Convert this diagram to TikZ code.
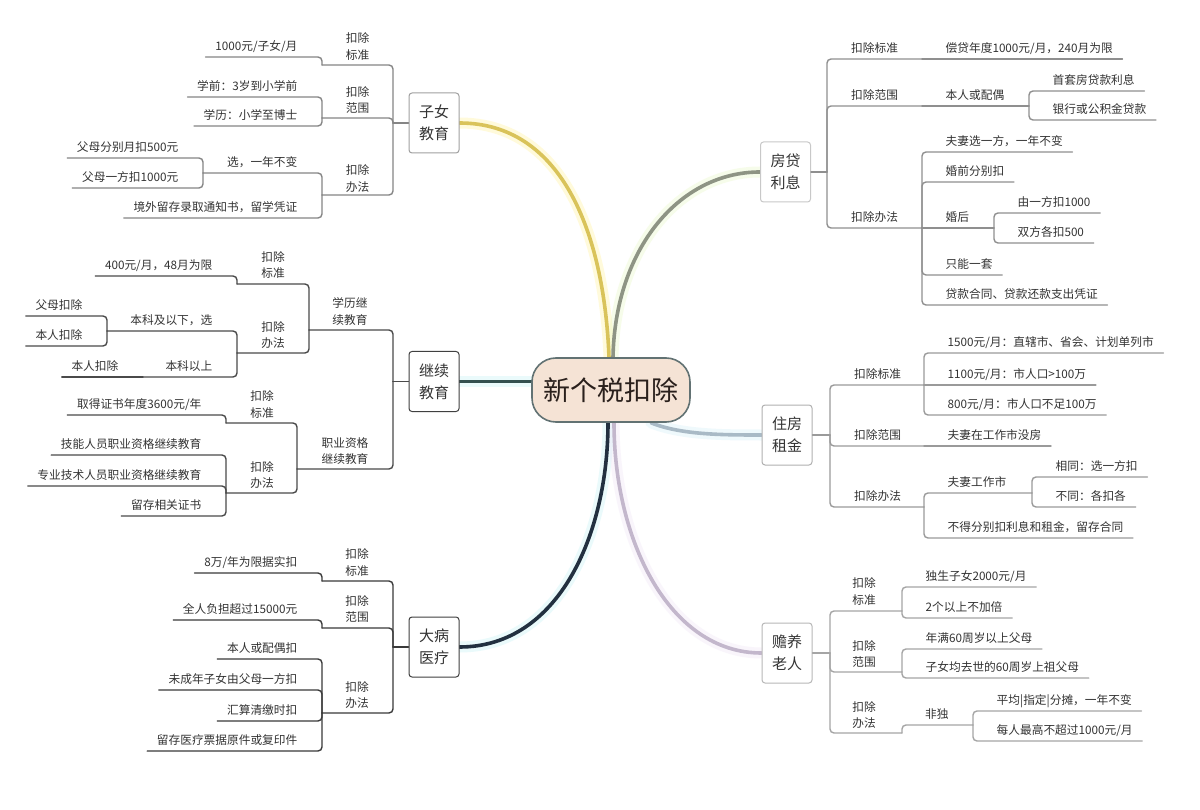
\documentclass[tikz,border=0pt]{standalone}
\usepackage{fontspec}
\setmainfont{Noto Sans CJK SC}
\usetikzlibrary{calc}
\pgfdeclarelayer{bg}
\pgfsetlayers{bg,main}
\definecolor{txt}{HTML}{333333}
\definecolor{lnZ}{HTML}{858585}
\definecolor{lnJ}{HTML}{4a4a4a}
\definecolor{lnD}{HTML}{3a3a3a}
\definecolor{lnF}{HTML}{8f8f8f}
\definecolor{lnS}{HTML}{9a9a9a}
\definecolor{lnY}{HTML}{a5a5a5}
\definecolor{bZ}{HTML}{a0a0a0}
\definecolor{bJ}{HTML}{404040}
\definecolor{bD}{HTML}{404040}
\definecolor{bF}{HTML}{c8c8c8}
\definecolor{bS}{HTML}{b0b0b0}
\definecolor{bY}{HTML}{b8b8b8}
\definecolor{cZ}{HTML}{d9c35a}
\definecolor{gZ}{HTML}{fff29a}
\definecolor{cF}{HTML}{8e9484}
\definecolor{gF}{HTML}{e8f8c4}
\definecolor{cJ}{HTML}{34504f}
\definecolor{gJ}{HTML}{c4f2f6}
\definecolor{cS}{HTML}{a9bac6}
\definecolor{gS}{HTML}{d2eef8}
\definecolor{cD}{HTML}{223040}
\definecolor{gD}{HTML}{c4f2f6}
\definecolor{cY}{HTML}{c3b7cc}
\definecolor{gY}{HTML}{efe4f6}
\definecolor{rootfill}{HTML}{f5e3d5}
\definecolor{rootdraw}{HTML}{627273}
\definecolor{roottxt}{HTML}{2a201c}
\tikzset{
  lt/.style={inner sep=0pt, font=\fontsize{11.7}{14}\selectfont, text=txt},
  lt2/.style={inner sep=0pt, align=center, font=\fontsize{11.7}{16.5}\selectfont, text=txt},
  mainbox/.style={draw=#1, rounded corners=3pt, fill=white, line width=1pt,
    minimum width=50pt, minimum height=60pt, align=center, inner sep=0pt,
    font=\fontsize{15}{22}\selectfont, text=txt},
  rootnode/.style={draw=rootdraw, fill=rootfill, line width=1.6pt, rounded corners=24pt,
    minimum width=158pt, minimum height=64pt, inner sep=0pt,
    font=\fontsize{27}{30}\selectfont, text=roottxt},
  conn/.style={line width=1.4pt, line cap=round, rounded corners=4pt},
  curve/.style={line width=3.6pt, line cap=round, draw=#1},
  glow/.style={line width=11pt, line cap=round, draw=#1, opacity=0.35},
}
% left leaf: name, attach x, line y, text
\newcommand{\leafL}[4]{%
  \node[lt, anchor=base east] (#1) at ({#2-24.5},{#3-6.5}) {#4};
  \coordinate (#1-e) at ($(#1.base west)+(-9.5,6.5)$);%
}
% right leaf: name, attach x, line y, text
\newcommand{\leafR}[4]{%
  \node[lt, anchor=base west] (#1) at ({#2+23.5},{#3-6.5}) {#4};
  \coordinate (#1-e) at ($(#1.base east)+(9.5,6.5)$);%
}
\begin{document}
\begin{tikzpicture}[x=1pt,y=-1pt]
\useasboundingbox (0,0) rectangle (1200,810);

\node[rootnode] (root) at (611,390) {新个税扣除};
\node[mainbox=bZ] (Z) at (434,123) {子女\\教育};
\node[mainbox=bJ] (J) at (434,381.5) {继续\\教育};
\node[mainbox=bD] (D) at (434,647) {大病\\医疗};
\node[mainbox=bF] (F) at (785.5,172) {房贷\\利息};
\node[mainbox=bS] (S) at (787,435) {住房\\租金};
\node[mainbox=bY] (Y) at (787,653) {赡养\\老人};

\begin{pgfonlayer}{bg}
\fill[white] (0,0) rectangle (1200,810);
% glows
\draw[glow=gZ] ([xshift=-2pt]root.north) .. controls +(-5,-127) and +(101,0) .. (Z.east);
\draw[glow=gF] ([xshift=2pt]root.north) .. controls +(2,-108) and +(-81,0) .. (F.west);
\draw[glow=gJ] (J.east) -- (J.east -| root.west);
\draw[glow=gS] ([xshift=40pt]root.south) .. controls +(30,12) and +(-40,0) .. (S.west);
\draw[glow=gD] ([xshift=-3pt]root.south) .. controls +(0,110) and +(100,0) .. (D.east);
\draw[glow=gY] ([xshift=3pt]root.south) .. controls +(0,118) and +(-92,0) .. (Y.west);
% curves
\draw[curve=cZ] ([xshift=-2pt]root.north) .. controls +(-5,-127) and +(101,0) .. (Z.east);
\draw[curve=cF] ([xshift=2pt]root.north) .. controls +(2,-108) and +(-81,0) .. (F.west);
\draw[curve=cJ] (J.east) -- (J.east -| root.west);
\draw[curve=cS] ([xshift=40pt]root.south) .. controls +(30,12) and +(-40,0) .. (S.west);
\draw[curve=cD] ([xshift=-3pt]root.south) .. controls +(0,110) and +(100,0) .. (D.east);
\draw[curve=cY] ([xshift=3pt]root.south) .. controls +(0,118) and +(-92,0) .. (Y.west);
\end{pgfonlayer}

% ================= 子女教育 =================
\begin{scope}[ln/.style={conn,draw=lnZ}]
\coordinate (Z-e) at (393,123);
\draw[ln] (Z.west) -- (Z-e);
\coordinate (Z1-e) at (322,65);  \node[lt2] (Z1) at (357.5,46.5) {扣除\\标准};
\coordinate (Z2-e) at (322,118); \node[lt2] (Z2) at (357.5,100) {扣除\\范围};
\coordinate (Z3-e) at (322,195); \node[lt2] (Z3) at (357.5,178.5) {扣除\\办法};
\draw[ln] (Z-e) |- (Z1-e);
\draw[ln] (Z-e) |- (Z2-e);
\draw[ln] (Z-e) |- (Z3-e);
\leafL{Z11}{322}{57}{1000元/子女/月}
\draw[ln] (Z1-e) |- (Z11-e);
\leafL{Z21}{322}{97}{学前：3岁到小学前}
\leafL{Z22}{322}{126}{学历：小学至博士}
\draw[ln] (Z2-e) |- (Z21-e);
\draw[ln] (Z2-e) |- (Z22-e);
\coordinate (Z31-e) at (203,173);
\node[lt, anchor=base east] (Z31) at (297.5,166.5) {选，一年不变};
\draw[ln] (Z3-e) |- (Z31-e);
\leafL{Z311}{203}{158}{父母分别月扣500元}
\leafL{Z312}{203}{188}{父母一方扣1000元}
\draw[ln] (Z31-e) |- (Z311-e);
\draw[ln] (Z31-e) |- (Z312-e);
\leafL{Z32}{322}{218}{境外留存录取通知书，留学凭证}
\draw[ln] (Z3-e) |- (Z32-e);
\end{scope}

% ================= 继续教育 =================
\begin{scope}[ln/.style={conn,draw=lnJ}]
\coordinate (J-e) at (393,381.5);
\draw[ln] (J.west) -- (J-e);
\coordinate (J1-e) at (309,330); \node[lt2] (J1) at (350,311.5) {学历继\\续教育};
\coordinate (J2-e) at (297,469); \node[lt2] (J2) at (345,451) {职业资格\\继续教育};
\draw[ln] (J-e) |- (J1-e);
\draw[ln] (J-e) |- (J2-e);
\coordinate (J11-e) at (237,284); \node[lt2] (J11) at (273,265) {扣除\\标准};
\coordinate (J12-e) at (237,353); \node[lt2] (J12) at (273,335) {扣除\\办法};
\draw[ln] (J1-e) |- (J11-e);
\draw[ln] (J1-e) |- (J12-e);
\leafL{J111}{237}{276}{400元/月，48月为限}
\draw[ln] (J11-e) |- (J111-e);
\coordinate (J121-e) at (107,331);
\node[lt, anchor=base east] (J121) at (212.5,324.5) {本科及以下，选};
\draw[ln] (J12-e) |- (J121-e);
\leafL{J1211}{107}{316}{父母扣除}
\leafL{J1212}{107}{346}{本人扣除}
\draw[ln] (J121-e) |- (J1211-e);
\draw[ln] (J121-e) |- (J1212-e);
\coordinate (J122-e) at (143,377);
\node[lt, anchor=base east] (J122) at (212.5,370.5) {本科以上};
\draw[ln] (J12-e) |- (J122-e);
\leafL{J1221}{143}{377}{本人扣除}
\draw[ln] (J122-e) -- (J1221-e);
\coordinate (J21-e) at (226,423); \node[lt2] (J21) at (262,404.5) {扣除\\标准};
\coordinate (J22-e) at (226,493); \node[lt2] (J22) at (262,475) {扣除\\办法};
\draw[ln] (J2-e) |- (J21-e);
\draw[ln] (J2-e) |- (J22-e);
\leafL{J211}{226}{415}{取得证书年度3600元/年}
\draw[ln] (J21-e) |- (J211-e);
\leafL{J221}{226}{455}{技能人员职业资格继续教育}
\leafL{J222}{226}{486}{专业技术人员职业资格继续教育}
\leafL{J223}{226}{516}{留存相关证书}
\draw[ln] (J22-e) |- (J221-e);
\draw[ln] (J22-e) |- (J222-e);
\draw[ln] (J22-e) |- (J223-e);
\end{scope}

% ================= 大病医疗 =================
\begin{scope}[ln/.style={conn,draw=lnD}]
\coordinate (D-e) at (393,647);
\draw[ln] (D.west) -- (D-e);
\coordinate (D1-e) at (322,581); \node[lt2] (D1) at (357,562.5) {扣除\\标准};
\coordinate (D2-e) at (322,628); \node[lt2] (D2) at (357,609) {扣除\\范围};
\coordinate (D3-e) at (322,713); \node[lt2] (D3) at (357,695) {扣除\\办法};
\draw[ln] (D-e) |- (D1-e);
\draw[ln] (D-e) |- (D2-e);
\draw[ln] (D-e) |- (D3-e);
\leafL{D11}{322}{573}{8万/年为限据实扣}
\draw[ln] (D1-e) |- (D11-e);
\leafL{D21}{322}{620}{全人负担超过15000元}
\draw[ln] (D2-e) |- (D21-e);
\leafL{D31}{322}{659}{本人或配偶扣}
\leafL{D32}{322}{690}{未成年子女由父母一方扣}
\leafL{D33}{322}{721}{汇算清缴时扣}
\leafL{D34}{322}{751}{留存医疗票据原件或复印件}
\draw[ln] (D3-e) |- (D31-e);
\draw[ln] (D3-e) |- (D32-e);
\draw[ln] (D3-e) |- (D33-e);
\draw[ln] (D3-e) |- (D34-e);
\end{scope}

% ================= 房贷利息 =================
\begin{scope}[ln/.style={conn,draw=lnF}]
\coordinate (F-e) at (827,172);
\draw[ln] (F.east) -- (F-e);
\coordinate (F1-e) at (922,59);  \node[lt, anchor=base west] (F1) at (851,52.5) {扣除标准};
\coordinate (F2-e) at (922,106); \node[lt, anchor=base west] (F2) at (851,99.5) {扣除范围};
\coordinate (F3-e) at (922,228); \node[lt, anchor=base west] (F3) at (851,221.5) {扣除办法};
\draw[ln] (F-e) |- (F1-e);
\draw[ln] (F-e) |- (F2-e);
\draw[ln] (F-e) |- (F3-e);
\leafR{F11}{922}{59}{偿贷年度1000元/月，240月为限}
\draw[ln] (F1-e) -- (F11-e);
\coordinate (F21-e) at (1029,106);
\node[lt, anchor=base west] (F21) at (945.5,99.5) {本人或配偶};
\draw[ln] (F2-e) -- (F21-e);
\leafR{F211}{1029}{91}{首套房贷款利息}
\leafR{F212}{1029}{120}{银行或公积金贷款}
\draw[ln] (F21-e) |- (F211-e);
\draw[ln] (F21-e) |- (F212-e);
\leafR{F31}{922}{152}{夫妻选一方，一年不变}
\leafR{F32}{922}{182}{婚前分别扣}
\draw[ln] (F3-e) |- (F31-e);
\draw[ln] (F3-e) |- (F32-e);
\coordinate (F33-e) at (994,228);
\node[lt, anchor=base west] (F33) at (945.5,221.5) {婚后};
\draw[ln] (F3-e) -- (F33-e);
\leafR{F331}{994}{213}{由一方扣1000}
\leafR{F332}{994}{243}{双方各扣500}
\draw[ln] (F33-e) |- (F331-e);
\draw[ln] (F33-e) |- (F332-e);
\leafR{F34}{922}{275}{只能一套}
\leafR{F35}{922}{305}{贷款合同、贷款还款支出凭证}
\draw[ln] (F3-e) |- (F34-e);
\draw[ln] (F3-e) |- (F35-e);
\end{scope}

% ================= 住房租金 =================
\begin{scope}[ln/.style={conn,draw=lnS}]
\coordinate (S-e) at (830,435);
\draw[ln] (S.east) -- (S-e);
\coordinate (S1-e) at (924,385); \node[lt, anchor=base west] (S1) at (854,378.5) {扣除标准};
\coordinate (S2-e) at (924,446); \node[lt, anchor=base west] (S2) at (854,439.5) {扣除范围};
\coordinate (S3-e) at (924,507); \node[lt, anchor=base west] (S3) at (854,500.5) {扣除办法};
\draw[ln] (S-e) |- (S1-e);
\draw[ln] (S-e) |- (S2-e);
\draw[ln] (S-e) |- (S3-e);
\leafR{S11}{924}{353}{1500元/月：直辖市、省会、计划单列市}
\leafR{S12}{924}{385}{1100元/月：市人口>100万}
\leafR{S13}{924}{415}{800元/月：市人口不足100万}
\draw[ln] (S1-e) |- (S11-e);
\draw[ln] (S1-e) -- (S12-e);
\draw[ln] (S1-e) |- (S13-e);
\leafR{S21}{924}{446}{夫妻在工作市没房}
\draw[ln] (S2-e) -- (S21-e);
\coordinate (S31-e) at (1032,493);
\node[lt, anchor=base west] (S31) at (947.5,486.5) {夫妻工作市};
\draw[ln] (S3-e) |- (S31-e);
\leafR{S311}{1032}{477}{相同：选一方扣}
\leafR{S312}{1032}{507}{不同：各扣各}
\draw[ln] (S31-e) |- (S311-e);
\draw[ln] (S31-e) |- (S312-e);
\leafR{S32}{924}{538}{不得分别扣利息和租金，留存合同}
\draw[ln] (S3-e) |- (S32-e);
\end{scope}

% ================= 赡养老人 =================
\begin{scope}[ln/.style={conn,draw=lnY}]
\coordinate (Y-e) at (830,653);
\draw[ln] (Y.east) -- (Y-e);
\coordinate (Y1-e) at (902,611); \node[lt2] (Y1) at (864,591.5) {扣除\\标准};
\coordinate (Y2-e) at (902,672); \node[lt2] (Y2) at (864,654) {扣除\\范围};
\coordinate (Y3-e) at (902,733); \node[lt2] (Y3) at (864,715) {扣除\\办法};
\draw[ln] (Y-e) |- (Y1-e);
\draw[ln] (Y-e) |- (Y2-e);
\draw[ln] (Y-e) |- (Y3-e);
\leafR{Y11}{902}{587}{独生子女2000元/月}
\leafR{Y12}{902}{618}{2个以上不加倍}
\draw[ln] (Y1-e) |- (Y11-e);
\draw[ln] (Y1-e) |- (Y12-e);
\leafR{Y21}{902}{649}{年满60周岁以上父母}
\leafR{Y22}{902}{678}{子女均去世的60周岁上祖父母}
\draw[ln] (Y2-e) |- (Y21-e);
\draw[ln] (Y2-e) |- (Y22-e);
\coordinate (Y31-e) at (973,725);
\node[lt, anchor=base west] (Y31) at (925,718.5) {非独};
\draw[ln] (Y3-e) |- (Y31-e);
\leafR{Y311}{973}{711}{平均|指定|分摊，一年不变}
\leafR{Y312}{973}{741}{每人最高不超过1000元/月}
\draw[ln] (Y31-e) |- (Y311-e);
\draw[ln] (Y31-e) |- (Y312-e);
\end{scope}
\end{tikzpicture}
\end{document}
